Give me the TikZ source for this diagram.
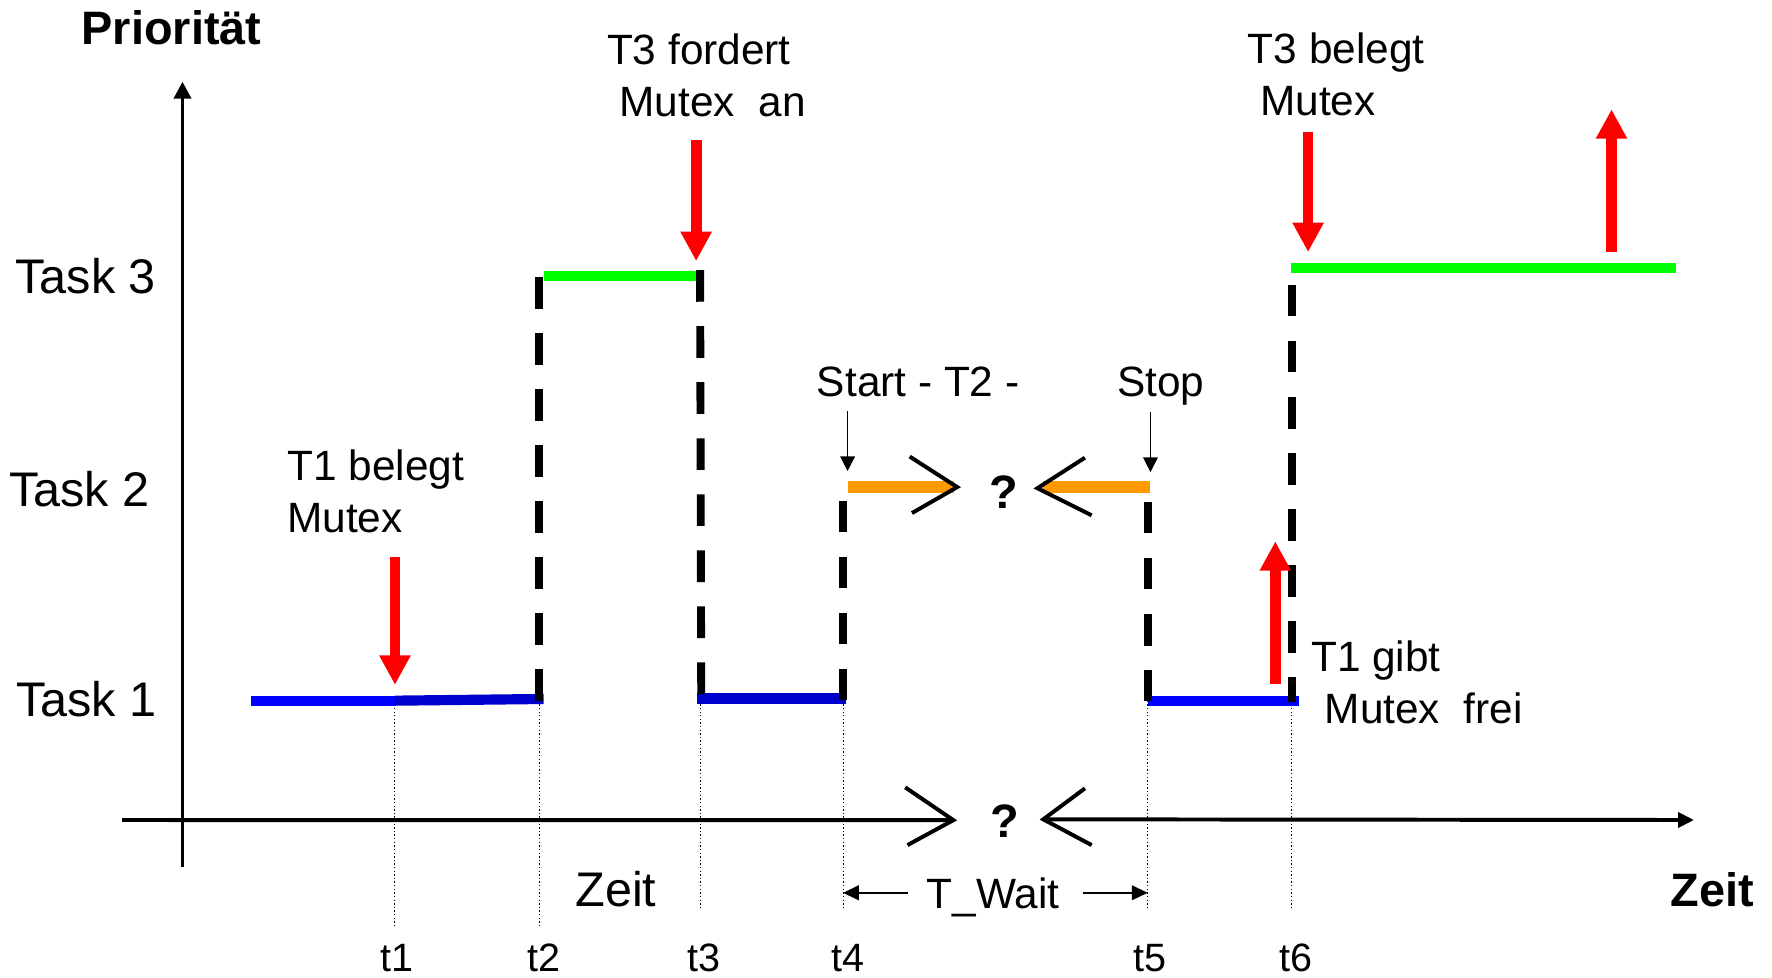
\documentclass[tikz,border=0pt]{standalone}
\usepackage{fontspec}
\setmainfont{Liberation Sans}
\usetikzlibrary{arrows.meta}

\definecolor{tblue}{HTML}{0000FF}
\definecolor{tdblue}{HTML}{0000CC}
\definecolor{tgreen}{HTML}{00FF00}
\definecolor{torange}{HTML}{FF9900}
\definecolor{tred}{HTML}{FF0000}

\begin{document}
\begin{tikzpicture}[x=1pt,y=-1pt,
  txt/.style={inner sep=0pt, anchor=base west, font=\fontsize{37.5}{45}\selectfont},
  tasklbl/.style={inner sep=0pt, anchor=base west, font=\fontsize{43}{50}\selectfont},
  tick/.style={inner sep=0pt, anchor=base, font=\fontsize{35}{42}\selectfont},
  boldlbl/.style={inner sep=0pt, font=\bfseries\fontsize{41.5}{50}\selectfont},
  axis/.style={line width=3.5pt},
  chev/.style={line width=3.5pt},
  run/.style={line width=9pt},
  switch/.style={line width=7pt, dash pattern=on 28pt off 21.6pt},
  guide/.style={line width=0.9pt, dash pattern=on 1.2pt off 2pt},
  event/.style={tred, line width=9.5pt, -{Triangle[length=26pt,width=26pt]}},
  thin/.style={line width=1.3pt, -{Triangle[length=13pt,width=13pt]}},
  span/.style={line width=1.8pt, -{Triangle[length=14pt,width=13pt]}}
]
\useasboundingbox (0,0) rectangle (1568,865);

% ---- axes ----
\coordinate (yb) at (161.5,767);
\coordinate (yt) at (161.5,72.3);
\draw[axis, -{Triangle[length=15pt,width=15pt]}] (yb) -- (yt);
\coordinate (xl) at (108,725.6);
\coordinate (xm1) at (843.6,725.7);
\coordinate (xm2) at (923.2,725);
\coordinate (xr) at (1499,725.6);
\draw[axis] (xl) -- (xm1);
\draw[axis, -{Triangle[length=14pt,width=13pt]}] (xm2) -- (xr);
% open chevrons on the time axis
\coordinate (ca1) at (801,696.7); \coordinate (ca2) at (803,747.8);
\coordinate (cb1) at (960,697.6); \coordinate (cb2) at (966,747.8);
\draw[chev] (ca1) -- (xm1) -- (ca2);
\draw[chev] (cb1) -- (xm2) -- (cb2);
\node[boldlbl, anchor=base] (qx) at (889.4,740.8) {?};

% ---- axis labels ----
\node[boldlbl, anchor=base west] (prio) at (72,39) {Priorität};
\node[boldlbl, anchor=base west] (zeitb) at (1478,802) {Zeit};
\node[inner sep=0pt, anchor=base west, font=\fontsize{43}{50}\selectfont] (zeit) at (509,802) {Zeit};
\node[tasklbl] (task3) at (13.5,259.6) {Task 3};
\node[tasklbl] (task2) at (8,448) {Task 2};
\node[tasklbl] (task1) at (14,634) {Task 1};

% ---- time marks ----
\coordinate (g1t) at (349.5,620);  \coordinate (g1b) at (349.5,818.5);
\coordinate (g2t) at (477,620);    \coordinate (g2b) at (477,818.5);
\coordinate (g3t) at (619.5,620);  \coordinate (g3b) at (619.5,804.5);
\coordinate (g4t) at (746,620);    \coordinate (g4b) at (746,804.5);
\coordinate (g5t) at (1015.5,620); \coordinate (g5b) at (1015.5,804.5);
\coordinate (g6t) at (1143,620);   \coordinate (g6b) at (1143,804.5);
\foreach \i in {1,...,6} \draw[guide] (g\i t) -- (g\i b);
\node[tick] (t1) at (351.5,859.5) {t1};
\node[tick] (t2) at (481,859.5) {t2};
\node[tick] (t3) at (623,859.5) {t3};
\node[tick] (t4) at (750,859.5) {t4};
\node[tick] (t5) at (1018,859.5) {t5};
\node[tick] (t6) at (1147,859.5) {t6};

% ---- task runs ----
\coordinate (b1a) at (222.5,620); \coordinate (b1m) at (349.5,620); \coordinate (b1b) at (481,618.5);
\draw[run, tblue] (b1a) -- (b1m);
\draw[run, tdblue] (b1m) -- (b1b);
\coordinate (b2a) at (616.6,618); \coordinate (b2b) at (749,618);
\draw[run, tdblue] (b2a) -- (b2b);
\coordinate (b3a) at (1016,620); \coordinate (b3b) at (1149.5,620);
\draw[run, tblue] (b3a) -- (b3b);
\coordinate (gr1a) at (481,244); \coordinate (gr1b) at (616,244);
\draw[run, tgreen] (gr1a) -- (gr1b);
\coordinate (gr2a) at (1142,237.5); \coordinate (gr2b) at (1483,237.5);
\draw[run, tgreen] (gr2a) -- (gr2b);
\coordinate (o1a) at (750.4,431); \coordinate (o1b) at (844,431);
\coordinate (o2a) at (923,431); \coordinate (o2b) at (1017.7,431);
\draw[line width=10.5pt, torange] (o1a) -- (o1b);
\draw[line width=10.5pt, torange] (o2a) -- (o2b);
% open chevrons on the Task 2 run
\coordinate (cc1) at (805,404); \coordinate (cct) at (847,431); \coordinate (cc2) at (807,454);
\coordinate (cd1) at (960,405); \coordinate (cdt) at (918,432); \coordinate (cd2) at (966,456);
\draw[chev] (cc1) -- (cct) -- (cc2);
\draw[chev] (cd1) -- (cdt) -- (cd2);
\node[boldlbl, anchor=base] (q2) at (888.5,449.6) {?};

% ---- context switches ----
\coordinate (s2t) at (477,245);    \coordinate (s2b) at (477,620);
\coordinate (s3t) at (619.5,239);  \coordinate (s3b) at (620.5,615);
\coordinate (s4t) at (746,443);    \coordinate (s4b) at (746,619);
\coordinate (s5t) at (1016,444);   \coordinate (s5b) at (1016,620);
\coordinate (s6t) at (1143,252);   \coordinate (s6b) at (1143,621);
\foreach \i in {2,...,6} \draw[switch] (s\i t) -- (s\i b);

% ---- mutex events ----
\node[txt] (e1a) at (254,425) {T1 belegt};
\node[txt] (e1b) at (254,471) {Mutex};
\coordinate (r1s) at (349.5,493); \coordinate (r1e) at (349.5,606);
\draw[event] (r1s) -- (r1e);

\node[txt] (e2a) at (537,57) {T3 fordert};
\node[txt] (e2b) at (548,103) {Mutex\ \ an};
\coordinate (r2s) at (616,124); \coordinate (r2e) at (616,231);
\draw[event] (r2s) -- (r2e);

\node[txt] (e3a) at (1104,56) {T3 belegt};
\node[txt] (e3b) at (1115,102) {Mutex};
\coordinate (r3s) at (1157.5,116.5); \coordinate (r3e) at (1157.5,223);
\draw[event] (r3s) -- (r3e);

\coordinate (r4s) at (1426,223); \coordinate (r4e) at (1426,96.7);
\draw[event] (r4s) -- (r4e);

\node[txt] (e5a) at (1160,594) {T1 gibt};
\node[txt] (e5b) at (1172,640) {Mutex\ \ frei};
\coordinate (r5s) at (1128.5,605.5); \coordinate (r5e) at (1128.5,479);
\draw[event] (r5s) -- (r5e);

% ---- Task 2 start / stop ----
\node[txt] (start) at (722.7,351) {Start - T2 -};
\node[txt] (stop) at (988.5,351) {Stop};
\coordinate (as) at (750,363.7); \coordinate (ae) at (750,416.8);
\coordinate (bs) at (1018,364.6); \coordinate (be) at (1018,417.7);
\draw[thin] (as) -- (ae);
\draw[thin] (bs) -- (be);

% ---- waiting time ----
\node[txt] (twait) at (820,803.5) {T\_Wait};
\coordinate (w1s) at (803.5,790); \coordinate (w1e) at (746,790);
\coordinate (w2s) at (958,790);   \coordinate (w2e) at (1015.5,790);
\draw[span] (w1s) -- (w1e);
\draw[span] (w2s) -- (w2e);
\end{tikzpicture}
\end{document}
